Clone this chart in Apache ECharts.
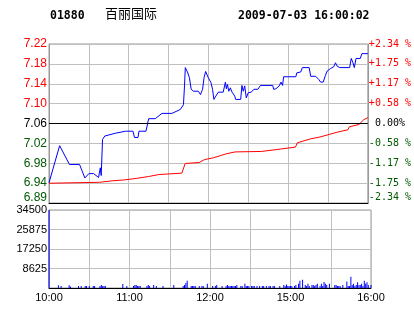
<!DOCTYPE html>
<html><head><meta charset="utf-8">
<script src="https://cdn.jsdelivr.net/npm/echarts@6/dist/echarts.min.js"></script>
<style>html,body{margin:0;padding:0;background:#fff}#c{width:414px;height:314px}</style>
</head><body><div id="c"></div>
<script>
const stockCode = '01880';
const stockName = '百丽国际';
const stamp = '2009-07-03 16:00:02';
const prevClose = 7.06;
const priceStep = 0.04125;
const priceLabels = ['6.89','6.94','6.98','7.02','7.06','7.10','7.14','7.18','7.22'];
const pctLabels = ['-2.34 %','-1.75 %','-1.17 %','-0.58 %',' 0.00%','+0.58 %','+1.17 %','+1.75 %','+2.34 %'];
const timeLabels = ['10:00','10:30','11:00','11:30','12:00','14:30','15:00','15:30','16:00'];
const volLabels = ['', '8625', '17250', '25875', '34500'];

const priceMinutes = [0,8,15.4,23,27,30,33.6,37.3,38.6,39.3,40.3,42,50.3,57.7,63.2,64.4,67,67.7,73,75,80,85,92.5,98.8,101.2,102,102.6,104.2,105.7,107,108.7,112.4,114,115.6,116.7,117.9,119.9,121.9,123.1,124.1,125.6,127.4,131.1,132.8,133.5,134.3,135.3,136.5,137.8,139.8,140.5,144.3,145.2,146.2,147.3,148.5,150,152.2,154.2,157.2,159.2,168.4,169.1,170.8,173.3,174.6,175.8,176.6,185.8,186.5,189.5,190.7,195.8,197,200.7,203.2,204.4,206.4,208.1,209.4,211.9,214.4,215.6,216.9,218.9,226.3,227.5,228.8,229.8,231.1,234.3,235.5,240];
const priceValues = [6.937,7.014,6.975,6.975,6.947,6.956,6.956,6.948,6.968,6.952,7.027,7.034,7.040,7.044,7.044,7.031,7.031,7.044,7.044,7.070,7.070,7.081,7.081,7.089,7.099,7.138,7.176,7.167,7.155,7.131,7.127,7.127,7.120,7.131,7.155,7.168,7.155,7.145,7.131,7.110,7.117,7.125,7.125,7.146,7.132,7.141,7.127,7.134,7.125,7.117,7.110,7.110,7.139,7.127,7.138,7.113,7.124,7.125,7.131,7.131,7.139,7.139,7.131,7.132,7.138,7.146,7.139,7.157,7.157,7.165,7.167,7.176,7.176,7.158,7.158,7.151,7.146,7.146,7.160,7.169,7.174,7.178,7.186,7.179,7.176,7.176,7.195,7.186,7.176,7.195,7.195,7.205,7.205];

const avgMinutes = [0,38,39,47.6,48,57,57.5,65.6,66,75,76,82.6,83,100,101,102.5,113,117,124,133.3,140,160,174.4,185.5,187,196.7,204,216.9,225,226,233.3,237,240];
const avgValues = [6.936,6.938,6.941,6.941,6.943,6.943,6.946,6.946,6.950,6.950,6.954,6.954,6.957,6.957,6.959,6.977,6.979,6.985,6.989,6.997,7.001,7.002,7.007,7.011,7.020,7.028,7.032,7.042,7.047,7.053,7.058,7.068,7.072];

const volMinutes = [0,7,9,15,16,22,24,27,28,30,33,34,38,39,40,41,42,55,58,63,64,65,66,67,68,73,74,75,78,80,85,93,100,101,102,103,106,107,108,109,112,114,115,118,122,124,125,129,132,133,134,135,136,137,138,139,140,143,144,146,147,148,149,151,152,153,155,157,159,160,162,164,165,167,168,172,175,176,177,178,179,180,181,183,184,186,187,189,191,192,193,194,196,197,198,199,200,202,203,204,205,206,207,209,213,214,215,216,217,219,222,223,224,225,226,227,228,229,230,231,232,233,234,235,236,237,238,240];
const volValues = [34500,1200,900,1200,700,900,900,900,900,900,900,900,900,1300,900,900,900,1800,900,900,1300,1300,900,900,900,900,1300,900,1300,900,900,1300,900,1300,2200,3200,900,900,900,900,900,900,900,1900,900,900,1300,900,900,1300,900,900,900,900,900,900,1300,900,900,1900,900,900,900,900,900,900,900,900,900,900,900,900,900,900,900,900,1300,900,1500,900,900,900,900,900,1300,1900,3200,3700,1300,900,1900,900,1300,1300,900,1300,1900,900,1900,900,2600,1900,1300,1900,1300,1300,900,900,900,1300,2900,900,900,5000,1300,1900,900,1300,2500,1300,1300,1900,900,3200,1900,2500,1300,1300];

const toStep = p => (p - prevClose) / priceStep;
const priceData = priceMinutes.map((m, i) => [m, toStep(priceValues[i])]);
const avgData = avgMinutes.map((m, i) => [m, toStep(avgValues[i])]);
const volData = volMinutes.map((m, i) => [m, volValues[i]]);

const RED = '#ff0000', GREEN = '#005a00', GRIDC = '#c0c0c0', AXC = '#999999';
const lblFont = 'Liberation Sans';

function priceFmt(v) {
  const i = Math.round(v) + 4;
  const t = priceLabels[i];
  if (i === 0) return '{b|' + t + '}';
  return (i > 4 ? '{u|' : i === 4 ? '{z|' : '{d|') + t + '}';
}
function pctFmt(v) {
  const i = Math.round(v) + 4;
  const t = pctLabels[i];
  if (i === 0) return '{b|' + t + '}';
  return (i > 4 ? '{u|' : i === 4 ? '{z|' : '{d|') + t + '}';
}

const chart = echarts.init(document.getElementById('c'), null, {renderer: 'canvas'});
chart.setOption({
  animation: false,
  backgroundColor: '#fff',
  graphic: [
    {type: 'text', left: 50, top: 10, style: {text: stockCode, font: 'bold 11.5px "DejaVu Sans Mono"', fill: '#000'}},
    {type: 'text', left: 105, top: 7, style: {text: stockName, font: '13px "Noto Sans CJK SC"', fill: '#000'}},
    {type: 'text', left: 238, top: 10, style: {text: stamp, font: 'bold 11.5px "DejaVu Sans Mono"', fill: '#000'}}
  ],
  grid: [
    {left: 49, right: 43, top: 44, height: 159, show: true, borderColor: AXC, borderWidth: 1},
    {left: 49, right: 43, top: 210, height: 78, show: true, borderColor: AXC, borderWidth: 1}
  ],
  xAxis: [
    {type: 'value', gridIndex: 0, min: 0, max: 240, interval: 30,
     axisLine: {show: true, onZero: false, lineStyle: {color: '#000', width: 1}},
     axisTick: {show: false}, axisLabel: {show: false},
     splitLine: {show: true, lineStyle: {color: GRIDC, width: 1}}},
    {type: 'value', gridIndex: 1, min: 0, max: 240, interval: 30,
     axisLine: {show: true, onZero: false, lineStyle: {color: '#000', width: 1}},
     axisTick: {show: false},
     axisLabel: {show: true, margin: 4, color: '#000', fontFamily: lblFont, fontSize: 11,
       formatter: v => { const i = Math.round(v / 30); return i % 2 === 0 ? timeLabels[i] : ''; }},
     splitLine: {show: true, lineStyle: {color: GRIDC, width: 1}}}
  ],
  yAxis: [
    {type: 'value', gridIndex: 0, position: 'left', min: -4, max: 4, interval: 1,
     axisLine: {show: true, lineStyle: {color: AXC}}, axisTick: {show: false},
     splitLine: {show: true, lineStyle: {color: GRIDC, width: 1}},
     axisLabel: {margin: 2, fontFamily: lblFont, fontSize: 12, formatter: priceFmt,
       rich: {u: {color: RED, fontFamily: lblFont, fontSize: 12},
              z: {color: '#000', fontFamily: lblFont, fontSize: 12},
              d: {color: GREEN, fontFamily: lblFont, fontSize: 12},
              b: {color: GREEN, fontFamily: lblFont, fontSize: 12, padding: [0, 0, 11, 0]}}}},
    {type: 'value', gridIndex: 0, position: 'right', min: -4, max: 4, interval: 1,
     axisLine: {show: true, lineStyle: {color: AXC}}, axisTick: {show: false},
     splitLine: {show: false},
     axisLabel: {margin: 1, fontFamily: 'DejaVu Sans Mono', fontSize: 10, formatter: pctFmt,
       rich: {u: {color: RED, fontFamily: 'DejaVu Sans Mono', fontSize: 10},
              z: {color: '#000', fontFamily: 'DejaVu Sans Mono', fontSize: 10},
              d: {color: GREEN, fontFamily: 'DejaVu Sans Mono', fontSize: 10},
              b: {color: GREEN, fontFamily: 'DejaVu Sans Mono', fontSize: 10, padding: [0, 0, 11, 0]}}}},
    {type: 'value', gridIndex: 1, position: 'left', min: 0, max: 34500, interval: 8625,
     axisLine: {show: true, lineStyle: {color: AXC}}, axisTick: {show: false},
     splitLine: {show: true, lineStyle: {color: GRIDC, width: 1}},
     axisLabel: {margin: 2, color: '#000', fontFamily: lblFont, fontSize: 11, padding: [6, 0, 0, 0],
       formatter: v => volLabels[Math.round(v / 8625)]}}
  ],
  series: [
    {type: 'line', name: 'avg', xAxisIndex: 0, yAxisIndex: 0, data: avgData, showSymbol: false,
     lineStyle: {color: RED, width: 1}, itemStyle: {color: RED}, z: 3, silent: true},
    {type: 'line', name: 'price', xAxisIndex: 0, yAxisIndex: 0, data: priceData, showSymbol: false,
     lineStyle: {color: '#0000ff', width: 1}, itemStyle: {color: '#0000ff'}, z: 4, silent: true,
     markLine: {silent: true, symbol: 'none', label: {show: false},
       lineStyle: {color: '#000', width: 1, type: 'solid'}, data: [{yAxis: 0}]}},
    {type: 'bar', name: 'vol', xAxisIndex: 1, yAxisIndex: 2, data: volData, barWidth: 1,
     itemStyle: {color: '#0000ff'}, silent: true}
  ]
});
</script>
</body></html>
